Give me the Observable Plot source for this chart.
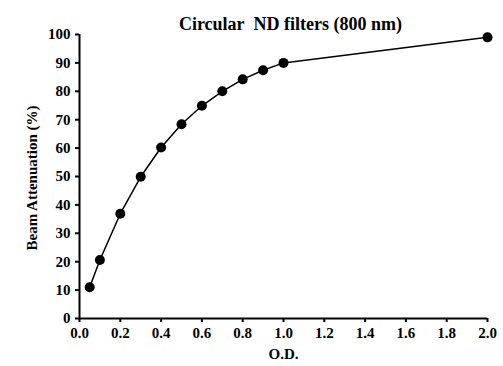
<!DOCTYPE html>
<html>
<head>
<meta charset="utf-8">
<script src="https://cdn.jsdelivr.net/npm/d3@7"></script>
<script src="https://cdn.jsdelivr.net/npm/@observablehq/plot@0.6"></script>
<style>
  html, body { margin: 0; padding: 0; background: #fff; }
  #chart svg { display: block; }
  #chart svg text { font-family: "Liberation Serif", "Times New Roman", Times, "DejaVu Serif", serif !important; font-weight: bold; }
</style>
</head>
<body>
<div id="chart"></div>
<script>
const title = "Circular\u00a0\u00a0ND filters (800 nm)";
const xLabel = "O.D.";
const yLabel = "Beam Attenuation (%)";
const od = [0.05, 0.1, 0.2, 0.3, 0.4, 0.5, 0.6, 0.7, 0.8, 0.9, 1.0, 2.0];
const attenuation = [11.0, 20.6, 36.9, 49.9, 60.2, 68.4, 74.9, 80.0, 84.2, 87.4, 90.0, 99.0];
const xTicks = [0, 0.2, 0.4, 0.6, 0.8, 1.0, 1.2, 1.4, 1.6, 1.8, 2.0];
const yTicks = [0, 10, 20, 30, 40, 50, 60, 70, 80, 90, 100];

const data = od.map((x, i) => ({x, y: attenuation[i]}));
const font = "Liberation Serif, Times New Roman, Times, DejaVu Serif, serif";

const chart = Plot.plot({
  width: 503,
  height: 366,
  marginLeft: 79,
  marginRight: 16,
  marginTop: 34,
  marginBottom: 48,
  style: {fontFamily: font, fontWeight: "bold", fontSize: "15px", color: "#000", background: "#fff"},
  x: {domain: [0, 2], label: null},
  y: {domain: [0, 100], label: null},
  marks: [
    Plot.axisX({ticks: xTicks, tickFormat: d => d.toFixed(1), tickSize: 4, tickPadding: 5, strokeWidth: 2, fontSize: 15, fontFamily: font, fontWeight: "bold", label: null}),
    Plot.axisY({ticks: yTicks, tickSize: 4, tickPadding: 5, strokeWidth: 2, fontSize: 15, fontFamily: font, fontWeight: "bold", label: null}),
    Plot.ruleX([0], {strokeWidth: 2}),
    Plot.ruleY([0], {strokeWidth: 2}),
    Plot.line(data, {x: "x", y: "y", stroke: "#000", strokeWidth: 1.5}),
    Plot.dot(data, {x: "x", y: "y", r: 5, fill: "#000", stroke: "none"}),
    Plot.text([title], {frameAnchor: "top", dy: -17, dx: 7, fontSize: 18, fontFamily: font, fontWeight: "bold", text: d => d}),
    Plot.text([xLabel], {frameAnchor: "bottom", dy: 40, fontSize: 15, fontFamily: font, fontWeight: "bold", text: d => d}),
    Plot.text([yLabel], {frameAnchor: "left", dx: -47, dy: 74, rotate: -90, fontSize: 15, fontFamily: font, fontWeight: "bold", text: d => d})
  ]
});
document.getElementById("chart").append(chart);
</script>
</body>
</html>
